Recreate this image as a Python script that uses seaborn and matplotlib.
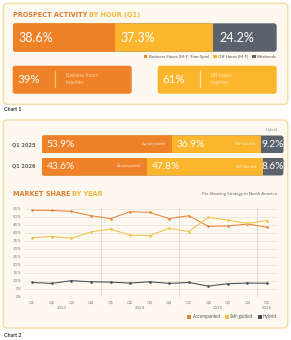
import numpy as np
import pandas as pd
import seaborn as sns
import matplotlib.pyplot as plt
from matplotlib.patches import FancyBboxPatch, Rectangle
from matplotlib.lines import Line2D

# data
activity_labels = ["Business Hours (M-F, 9am-5pm)", "Off Hours (M-F)", "Weekends"]
activity_share = [38.6, 37.3, 24.2]

inquiry_share = [39, 61]
inquiry_labels = ["Business-hours\ninquiries", "Off-hours\ninquiries"]

strategies = ["Accompanied", "Self-guided", "Hybrid"]
bar_names = ["Accompanied", "Self-Guided", "Hybrid"]
row_labels = ["Q1 2025", "Q1 2026"]
share_q1_2025 = [53.9, 36.9, 9.2]
share_q1_2026 = [43.6, 47.8, 8.6]

quarters = ["Q1", "Q2", "Q3", "Q4"] * 3 + ["Q1"]
years = ["2023", "2024", "2025", "2026"]
accompanied = [54.3, 54.1, 53.5, 50.8, 49.0, 53.3, 52.9, 49.0, 50.8, 44.2, 44.4, 45.6, 43.6]
self_guided = [37.1, 37.8, 36.7, 40.7, 42.5, 38.6, 38.4, 42.9, 40.9, 49.8, 48.1, 46.0, 47.8]
hybrid = [9.1, 8.5, 10.2, 9.5, 9.3, 8.7, 9.5, 8.5, 9.1, 6.8, 8.3, 8.7, 8.6]

ORANGE = "#ef8128"
YELLOW = "#fbb62e"
SLATE = "#5a636d"
bar_colors = [ORANGE, YELLOW, SLATE]
line_colors = ["#e4843c", "#f1c24a", "#434c56"]
TITLE_OR = "#df7b30"
TITLE_GD = "#f2b93c"
PANEL = "#fdf9f0"
BORDER = "#f3e0a6"

sns.set_theme(style="white")
plt.rcParams['font.family'] = ['Lato', 'DejaVu Sans']

W, H = 291, 340
fig = plt.figure(figsize=(W / 100, H / 100), dpi=100)
fig.patch.set_facecolor("white")


def box(x, y, w, h):
    return [x / W, 1 - (y + h) / H, w / W, h / H]


def rbox(x, y, w, h, r, **kw):
    return FancyBboxPatch((x / 100, (H - y - h) / 100), w / 100, h / 100,
                          boxstyle=f"round,pad=0,rounding_size={r / 100}",
                          transform=fig.dpi_scale_trans, **kw)


def ftext(x, y, s, **kw):
    return fig.text(x / W, 1 - y / H, s, **kw)


def two_tone(x, y, a, b, size):
    t = ftext(x, y, a, color=TITLE_OR, fontsize=size, fontweight="bold",
              family="DejaVu Sans", va="center")
    bb = t.get_window_extent(renderer=fig.canvas.get_renderer())
    ftext(bb.x1 + 2, y, b, color=TITLE_GD, fontsize=size, fontweight="bold",
          family="DejaVu Sans", va="center")


def stacked_bar(x, y, w, h, shares, r):
    ax = fig.add_axes(box(x, y, w, h))
    cum = np.cumsum(shares)
    for i in reversed(range(len(shares))):
        sns.barplot(x=[cum[i]], y=["a"], color=bar_colors[i], width=1, saturation=1,
                    linewidth=0, orient="h", ax=ax)
    ax.set_xlim(0, cum[-1])
    ax.set_ylim(0.5, -0.5)
    ax.axis("off")
    clip = rbox(x, y, w, h, r)
    for p in ax.patches:
        p.set_clip_path(clip)
    return ax, cum


# panels
fig.add_artist(rbox(3.3, 3.3, 284.5, 101, 4, fc=PANEL, ec=BORDER, lw=1.1, zorder=-1))
fig.add_artist(rbox(3.3, 120, 284.5, 208, 4, fc=PANEL, ec=BORDER, lw=1.1, zorder=-1))
ftext(4, 109.5, "Chart 1", fontsize=3.8, fontweight="bold", color="#333333", va="center")
ftext(4, 335.5, "Chart 2", fontsize=3.8, fontweight="bold", color="#333333", va="center")

# chart 1: activity bar
two_tone(12.7, 15, "PROSPECT ACTIVITY", "BY HOUR (Q1)", 4.7)
ax1, cum1 = stacked_bar(12.7, 23.3, 264, 28.4, activity_share, 3)
for s, c in zip(activity_share, cum1):
    ax1.text(c - s + 2.3, 0, f"{s}%", color="white", fontsize=9, va="center", ha="left")

handles = [Rectangle((0, 0), 1, 1, fc=c, ec="none") for c in bar_colors]
fig.legend(handles, activity_labels, loc="center right", bbox_to_anchor=(277 / W, 1 - 56.8 / H),
           ncol=3, fontsize=3.1, frameon=False, handlelength=0.9, handleheight=0.9,
           handletextpad=0.3, columnspacing=0.9, borderpad=0, borderaxespad=0,
           labelcolor="#555555")

# inquiry boxes
box_x = [12.7, 157.7]
box_fc = [ORANGE, YELLOW]
div_c = ["#fbc06a", "#fde4b0"]
lab_c = ["#fcd7b0", "#fde7c0"]
for i in range(2):
    x0 = box_x[i]
    fig.add_artist(rbox(x0, 65.7, 119, 28, 2.5, fc=box_fc[i], ec="none", zorder=0))
    ftext(x0 + 4.5, 79.5, f"{inquiry_share[i]}%", color="white", fontsize=8.3, va="center")
    fig.add_artist(Line2D([(x0 + 42) / W] * 2, [1 - 70.7 / H, 1 - 87.3 / H],
                          color=div_c[i], lw=0.9))
    ftext(x0 + 53, 79, inquiry_labels[i], color=lab_c[i], fontsize=3.5, va="center",
          linespacing=1.55)

# chart 2: strategy bars
ftext(272, 130, "Hybrid", color="#8a8a8a", fontsize=3, ha="center", va="center")
for lab, shares, y0 in zip(row_labels, [share_q1_2025, share_q1_2026], [135.5, 157.5]):
    ftext(12.5, y0 + 9, lab, color="#6e6258", fontsize=3.6, fontweight="bold",
          family="DejaVu Sans", va="center")
    ax, cum = stacked_bar(41.7, y0, 241.8, 18, shares, 2.5)
    for i, (s, c) in enumerate(zip(shares, cum)):
        if i < 2:
            ax.text(c - s + 2, 0, f"{s}%", color="white", fontsize=7.3, va="center", ha="left")
            ax.text(c - 2.4, 0, bar_names[i], color="white", alpha=0.8, fontsize=3,
                    va="center", ha="right")
        else:
            ax.text(c - s / 2, 0, f"{s}%", color="white", fontsize=7.3, va="center", ha="center")

# chart 2: market share lines
two_tone(12.7, 193.5, "MARKET SHARE", "BY YEAR", 4.7)
ftext(277, 194, "Per Showing Strategy in North America", color="#666666", fontsize=3.2,
      ha="right", va="center")

df = pd.DataFrame({
    "t": list(range(len(quarters))) * 3,
    "share": accompanied + self_guided + hybrid,
    "strategy": np.repeat(strategies, len(quarters)),
})
ax2 = fig.add_axes(box(25, 207, 252, 90))
ax2.patch.set_visible(False)
sns.lineplot(data=df, x="t", y="share", hue="strategy", palette=line_colors, marker="o",
             markersize=1.9, markeredgewidth=0, linewidth=0.75, legend=False, ax=ax2)
ax2.set_xlim(-0.37, 12.51)
ax2.set_ylim(0, 56.25)
ax2.set_yticks(range(0, 56, 5))
ax2.set_yticklabels([f"{v}%" for v in range(0, 56, 5)])
ax2.set_xticks(range(len(quarters)))
ax2.set_xticklabels(quarters)
ax2.tick_params(length=0, labelsize=3.2, labelcolor="#7d7d7d", pad=2.5)
ax2.grid(axis="y", color="#e6e0d5", lw=0.5)
ax2.set_axisbelow(True)
for sp in ax2.spines.values():
    sp.set_visible(False)
ax2.set_xlabel("")
ax2.set_ylabel("")
for xv in [3.5, 7.5, 11.5]:
    ax2.axvline(xv, color="#dbd5cb", lw=0.6, zorder=0)
for yr, xv in zip(years, [1.5, 5.5, 9.5, 12]):
    ax2.text(xv, -0.122, yr, transform=ax2.get_xaxis_transform(), ha="center", va="center",
             fontsize=3.2, color="#7d7d7d")

handles2 = [Rectangle((0, 0), 1, 1, fc=c, ec="none") for c in line_colors]
fig.legend(handles2, strategies, loc="center right", bbox_to_anchor=(277 / W, 1 - 316.7 / H),
           ncol=3, fontsize=3.3, frameon=False, handlelength=0.9, handleheight=0.9,
           handletextpad=0.3, columnspacing=0.9, borderpad=0, borderaxespad=0,
           labelcolor="#555555")

fig.savefig("out.png", dpi=100)
